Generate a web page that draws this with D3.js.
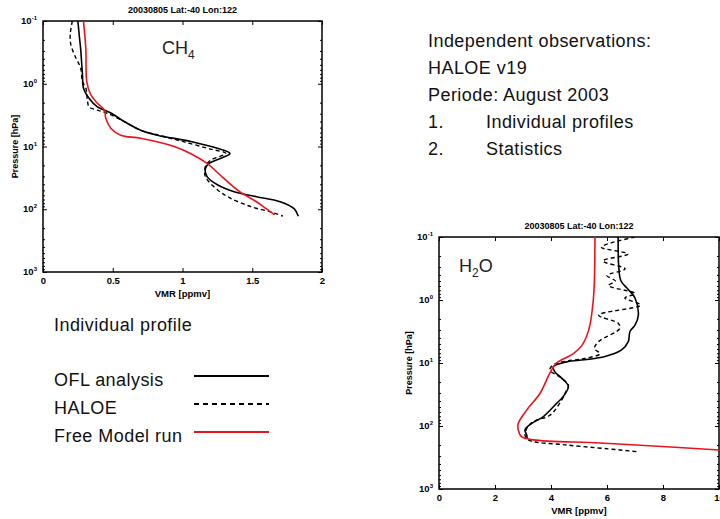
<!DOCTYPE html>
<html>
<head>
<meta charset="utf-8">
<script src="https://cdn.jsdelivr.net/npm/d3@7"></script>
<style>
  body { margin: 0; background: #fff; }
  svg { display: block; }
  text { font-family: "Liberation Sans", Arial, sans-serif; }
</style>
</head>
<body>
<svg id="chart" width="720" height="519"></svg>
<script>
// DATA  [vmr (ppmv), pressure (hPa)]
const ch4Ofl = [[0.25,0.1],[0.26,0.17],[0.27,0.28],[0.283,0.72],[0.29,1.17],[0.33,1.7],[0.39,2.34],[0.49,2.95],
  [0.58,3.98],[0.70,5.5],[0.82,6.6],[1.06,8.3],[1.25,10.7],[1.34,12.9],[1.27,15.5],[1.19,18.6],[1.164,22.4],
  [1.176,30.2],[1.25,40.7],[1.37,52.5],[1.53,63],[1.70,76],[1.80,98],[1.83,129]];
const ch4Haloe = [[0.21,0.1],[0.195,0.166],[0.20,0.24],[0.236,0.39],[0.27,0.56],[0.283,0.93],[0.307,1.17],[0.32,1.95],
  [0.33,2.34],[0.39,2.63],[0.46,2.95],[0.58,3.98],[0.70,5.5],[0.85,6.8],[1.0,8.3],[1.2,11],[1.31,12.9],[1.2,16.6],
  [1.164,20.9],[1.164,30.2],[1.25,49],[1.34,66],[1.49,91],[1.63,110],[1.72,129]];
const ch4Model = [[0.29,0.1],[0.307,0.275],[0.314,0.93],[0.343,1.51],[0.39,2.04],[0.44,2.63],[0.45,3.55],[0.486,5.1],
  [0.557,6.6],[0.70,7.4],[0.94,10],[1.057,12.9],[1.176,18.6],[1.295,32],[1.41,52.5],[1.53,76],[1.6,98],[1.66,123]];

const h2oOfl = [[6.4,0.1],[6.42,0.3],[6.5,0.5],[6.76,0.68],[7.0,0.93],[7.12,1.74],[7.0,2.51],[6.82,3.16],[6.76,4.57],
  [6.52,6.2],[5.93,7.9],[5.2,8.9],[4.56,9.6],[4.08,11.5],[4.14,13.8],[4.38,17.4],[4.62,23.4],[4.44,33.9],[4.2,43.7],
  [3.73,70.8],[3.31,91],[3.07,115],[3.13,138],[3.15,158]];
const h2oHaloe = [[7.0,0.1],[5.8,0.145],[6.75,0.186],[5.85,0.24],[6.65,0.32],[6.0,0.41],[6.3,0.5],[6.05,0.59],
  [7.0,0.79],[6.64,0.93],[7.2,1.2],[5.7,1.74],[6.4,2.34],[6.46,2.82],[5.7,4.57],[5.55,5.9],[5.75,7.1],[5.2,8.5],
  [4.56,9.3],[4.08,10.7],[3.96,12.9],[4.38,17.4],[4.62,22.4],[4.5,30.2],[4.38,38.9],[3.96,67.6],[3.37,85],
  [3.13,110],[3.07,138],[3.19,166],[4.56,200],[6.46,240],[7.12,257]];
const h2oModel = [[5.57,0.1],[5.55,0.5],[5.51,1.0],[5.39,2.5],[5.27,3.8],[5.1,5.3],[4.8,7.1],[4.2,10],[3.96,14.5],
  [3.61,30.2],[3.13,56],[2.83,91],[2.83,115],[2.95,148],[3.37,166],[5.75,186],[8.13,214],[10.0,240]];

const pressureTicks = [0.1, 1, 10, 100, 1000];
const pressureExps = ["-1", "0", "1", "2", "3"];
const ch4Ticks = [0, 0.5, 1, 1.5, 2];
const h2oTicks = [0, 2, 4, 6, 8, 10];
const plotTitle = "20030805 Lat:-40 Lon:122";
const infoLines = ["Independent observations:", "HALOE v19", "Periode: August 2003"];
const infoList = [["1.", "Individual profiles"], ["2.", "Statistics"]];
const legendNames = ["OFL analysis", "HALOE", "Free Model run"];

const svg = d3.select("#chart");
const minorTicks = d3.range(-1, 3).flatMap(e => d3.range(2, 10).map(m => m * Math.pow(10, e)));

function panel(cfg) {
  const x = d3.scaleLinear().domain([0, cfg.xTicks[cfg.xTicks.length - 1]]).range([cfg.left, cfg.right]);
  const y = d3.scaleLog().domain([0.1, 1000]).range([cfg.top, cfg.bottom]);
  const g = svg.append("g");

  g.append("clipPath").attr("id", cfg.id)
    .append("rect").attr("x", cfg.left).attr("y", cfg.top)
    .attr("width", cfg.right - cfg.left).attr("height", cfg.bottom - cfg.top);

  const noDomain = a => a.call(s => s.select(".domain").remove());
  // ticks, inward
  g.append("g").attr("transform", `translate(0,${cfg.bottom})`)
    .call(d3.axisBottom(x).tickValues(cfg.xTicks).tickSize(-4).tickPadding(5).tickFormat(d => d))
    .call(noDomain)
    .call(a => a.selectAll("text").attr("font-size", 9.5).attr("font-weight", "bold").attr("fill", "#000")
      .attr("font-family", "Liberation Sans, Arial, sans-serif"));
  g.append("g").attr("transform", `translate(0,${cfg.top})`)
    .call(d3.axisTop(x).tickValues(cfg.xTicks).tickSize(-4).tickFormat("")).call(noDomain);
  [[d3.axisLeft, cfg.left], [d3.axisRight, cfg.right]].forEach(([ax, pos]) => {
    g.append("g").attr("transform", `translate(${pos},0)`)
      .call(ax(y).tickValues(pressureTicks).tickSize(-4).tickFormat("")).call(noDomain);
    g.append("g").attr("transform", `translate(${pos},0)`)
      .call(ax(y).tickValues(minorTicks).tickSize(-2).tickFormat("")).call(noDomain);
  });

  // y tick labels 10^n
  const lab = g.selectAll(".ylab").data(pressureTicks).join("text")
    .attr("x", cfg.left - 6).attr("y", d => y(d) + 3)
    .attr("text-anchor", "end").attr("font-size", 9.5).attr("font-weight", "bold");
  lab.append("tspan").text("10");
  lab.append("tspan").attr("dy", -4).attr("font-size", 6).text((d, i) => pressureExps[i]);

  g.append("rect").attr("x", cfg.left).attr("y", cfg.top)
    .attr("width", cfg.right - cfg.left).attr("height", cfg.bottom - cfg.top)
    .attr("fill", "none").attr("stroke", "#000").attr("stroke-width", 1.5);

  g.append("text").attr("x", (cfg.left + cfg.right) / 2).attr("y", cfg.top - 8)
    .attr("text-anchor", "middle").attr("font-size", 9).attr("font-weight", "bold").text(plotTitle);
  g.append("text").attr("x", (cfg.left + cfg.right) / 2).attr("y", cfg.bottom + 25)
    .attr("text-anchor", "middle").attr("font-size", 9.5).attr("font-weight", "bold").text("VMR [ppmv]");
  g.append("text").attr("transform", `translate(${cfg.ylabX},${(cfg.top + cfg.bottom) / 2}) rotate(-90)`)
    .attr("text-anchor", "middle").attr("font-size", 9).attr("font-weight", "bold").text("Pressure [hPa]");

  // species label
  const sp = g.append("text").attr("x", cfg.spX).attr("y", cfg.spY).attr("font-size", 18).attr("fill", "#222");
  sp.append("tspan").text(cfg.species[0]);
  sp.append("tspan").attr("dy", 5).attr("font-size", 12).text(cfg.species[1]);
  sp.append("tspan").attr("dy", -5).text(cfg.species[2]);

  const line = d3.line().x(d => x(d[0])).y(d => y(d[1])).curve(d3.curveCatmullRom.alpha(0.5));
  const curves = g.append("g").attr("clip-path", `url(#${cfg.id})`).attr("fill", "none");
  curves.append("path").datum(cfg.ofl).attr("d", line).attr("stroke", "#000").attr("stroke-width", 1.6);
  curves.append("path").datum(cfg.haloe).attr("d", line).attr("stroke", "#000").attr("stroke-width", 1.4)
    .attr("stroke-dasharray", "4,3");
  curves.append("path").datum(cfg.model).attr("d", line).attr("stroke", "#e8141b").attr("stroke-width", 1.6);
}

panel({ id: "clipCh4", left: 43, right: 322, top: 21, bottom: 272, xTicks: ch4Ticks, ylabX: 18,
  spX: 162, spY: 54, species: ["CH", "4", ""], ofl: ch4Ofl, haloe: ch4Haloe, model: ch4Model });
panel({ id: "clipH2o", left: 439, right: 719, top: 237, bottom: 489, xTicks: h2oTicks, ylabX: 412,
  spX: 459, spY: 272, species: ["H", "2", "O"], ofl: h2oOfl, haloe: h2oHaloe, model: h2oModel });

// text block on the right
const info = svg.append("g").attr("font-size", 18).attr("letter-spacing", 0.45).attr("fill", "#111");
infoLines.forEach((t, i) => info.append("text").attr("x", 428).attr("y", 47 + i * 27).text(t));
infoList.forEach((t, i) => {
  info.append("text").attr("x", 428).attr("y", 128 + i * 27).text(t[0]);
  info.append("text").attr("x", 486).attr("y", 128 + i * 27).text(t[1]);
});

// legend
const leg = svg.append("g").attr("font-size", 18).attr("letter-spacing", 0.45).attr("fill", "#111");
leg.append("text").attr("x", 54).attr("y", 331).text("Individual profile");
const legStyles = [{ c: "#000", dash: null }, { c: "#000", dash: "5,4" }, { c: "#e8141b", dash: null }];
legendNames.forEach((name, i) => {
  const yy = 386 + i * 28;
  leg.append("text").attr("x", 54).attr("y", yy).text(name);
  leg.append("line").attr("x1", 194).attr("x2", 269).attr("y1", yy - 10).attr("y2", yy - 10)
    .attr("stroke", legStyles[i].c).attr("stroke-width", 2)
    .attr("stroke-dasharray", legStyles[i].dash);
});
</script>
</body>
</html>
